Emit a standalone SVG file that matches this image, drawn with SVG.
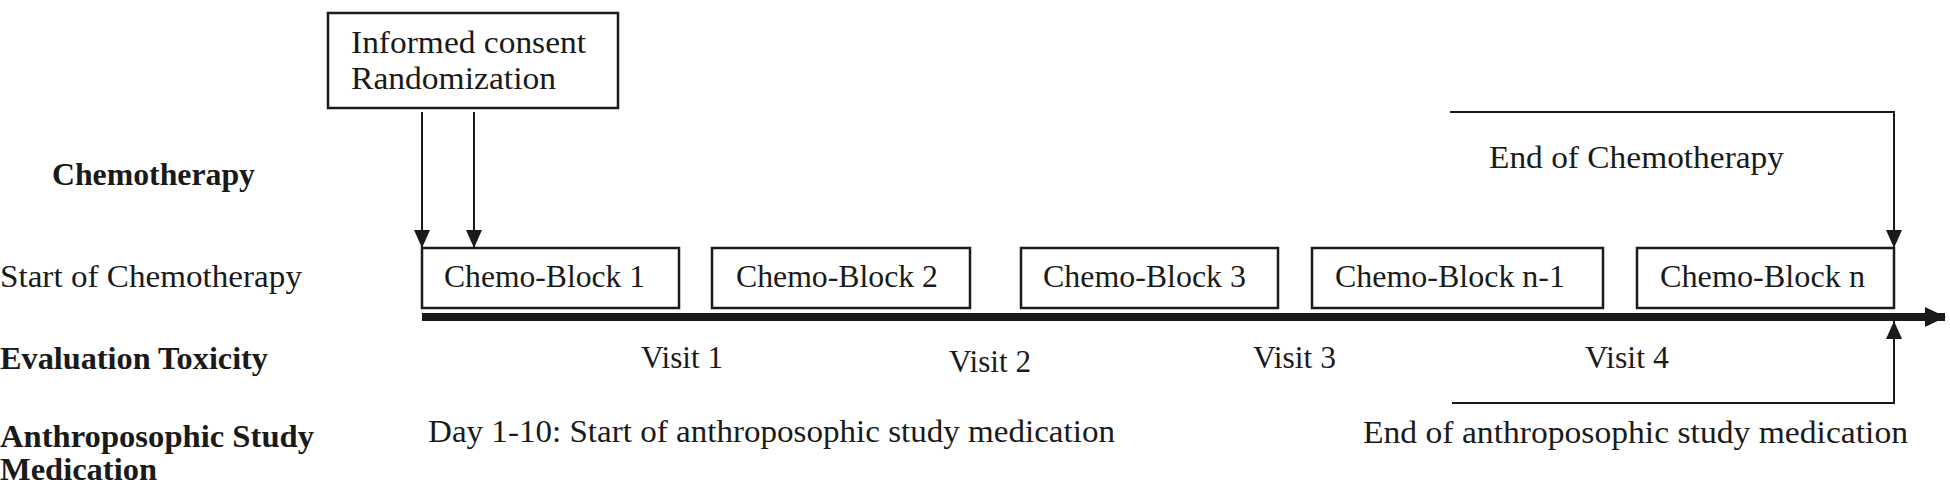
<svg xmlns="http://www.w3.org/2000/svg" width="1950" height="484" viewBox="0 0 1950 484">
<style>
text{font-family:"Liberation Serif","Times New Roman",serif;font-size:31px;fill:#1a1a1a}
.b{font-weight:bold}
.box{fill:#fff;stroke:#1a1a1a;stroke-width:2.5}
.ln{fill:none;stroke:#1a1a1a;stroke-width:2}
</style>
<defs>
<marker id="ah" markerUnits="userSpaceOnUse" markerWidth="18" markerHeight="16" refX="18" refY="8" orient="auto">
<path d="M0,0 L18,8 L0,16 Z" fill="#1a1a1a"/>
</marker>
<marker id="big" markerUnits="userSpaceOnUse" markerWidth="22" markerHeight="22" refX="20" refY="11" orient="auto">
<path d="M0,1 L21,11 L0,21 Z" fill="#1a1a1a"/>
</marker>
</defs>
<g id="labels">
<text class="b" x="52" y="185" textLength="203" lengthAdjust="spacingAndGlyphs">Chemotherapy</text>
<text x="0" y="287" textLength="302" lengthAdjust="spacingAndGlyphs">Start of Chemotherapy</text>
<text class="b" x="0" y="369" textLength="268" lengthAdjust="spacingAndGlyphs">Evaluation Toxicity</text>
<text class="b" x="0" y="447" textLength="314" lengthAdjust="spacingAndGlyphs">Anthroposophic Study</text>
<text class="b" x="0" y="480" textLength="157" lengthAdjust="spacingAndGlyphs">Medication</text>
</g>
<g id="consent">
<rect class="box" x="328" y="13" width="290" height="95"/>
<text x="351" y="53" textLength="235" lengthAdjust="spacingAndGlyphs">Informed consent</text>
<text x="351" y="89" textLength="205" lengthAdjust="spacingAndGlyphs">Randomization</text>
</g>
<g id="block1">
<rect class="box" x="422" y="248" width="257" height="60"/>
<text x="444" y="287" textLength="201" lengthAdjust="spacingAndGlyphs">Chemo-Block 1</text>
</g>
<g id="block2">
<rect class="box" x="712" y="248" width="258" height="60"/>
<text x="736" y="287" textLength="202" lengthAdjust="spacingAndGlyphs">Chemo-Block 2</text>
</g>
<g id="block3">
<rect class="box" x="1021" y="248" width="257" height="60"/>
<text x="1043" y="287" textLength="203" lengthAdjust="spacingAndGlyphs">Chemo-Block 3</text>
</g>
<g id="blockn1">
<rect class="box" x="1312" y="248" width="291" height="60"/>
<text x="1335" y="287" textLength="230" lengthAdjust="spacingAndGlyphs">Chemo-Block n-1</text>
</g>
<g id="blockn">
<rect class="box" x="1637" y="248" width="257" height="60"/>
<text x="1660" y="287" textLength="205" lengthAdjust="spacingAndGlyphs">Chemo-Block n</text>
</g>
<g id="visits">
<text x="641" y="368" textLength="82" lengthAdjust="spacingAndGlyphs">Visit 1</text>
<text x="949" y="372" textLength="82" lengthAdjust="spacingAndGlyphs">Visit 2</text>
<text x="1253" y="368" textLength="83" lengthAdjust="spacingAndGlyphs">Visit 3</text>
<text x="1585" y="368" textLength="84" lengthAdjust="spacingAndGlyphs">Visit 4</text>
</g>
<g id="notes">
<text x="1489" y="168" textLength="295" lengthAdjust="spacingAndGlyphs">End of Chemotherapy</text>
<text x="428" y="442" textLength="687" lengthAdjust="spacingAndGlyphs">Day 1-10: Start of anthroposophic study medication</text>
<text x="1363" y="443" textLength="545" lengthAdjust="spacingAndGlyphs">End of anthroposophic study medication</text>
</g>
<g id="connectors">
<line class="ln" x1="422" y1="112" x2="422" y2="248" marker-end="url(#ah)"/>
<line class="ln" x1="474" y1="112" x2="474" y2="248" marker-end="url(#ah)"/>
<polyline class="ln" points="1450,112 1894,112 1894,248" marker-end="url(#ah)"/>
<polyline class="ln" points="1452,403 1894,403 1894,321" marker-end="url(#ah)"/>
<line x1="422" y1="317" x2="1945" y2="317" stroke="#1a1a1a" stroke-width="8" marker-end="url(#big)"/>
</g>
</svg>
